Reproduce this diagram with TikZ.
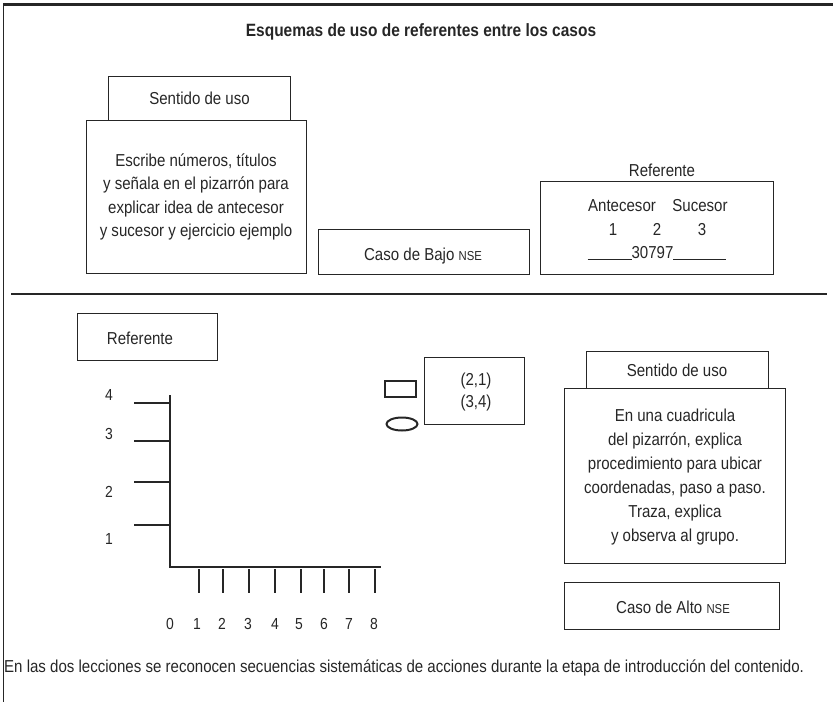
\documentclass[tikz,border=0pt]{standalone}
\usepackage{fontspec}
\usetikzlibrary{shapes.geometric}
\setmainfont[FakeStretch=0.87]{Liberation Sans}
\definecolor{ink}{RGB}{38,38,38}
\begin{document}
\begin{tikzpicture}[x=1pt,y=-1pt,
  every node/.style={text=ink, inner sep=0pt},
  txt/.style={font=\fontsize{17.3}{23.5}\selectfont, align=center},
  small/.style={font=\fontsize{16}{16}\selectfont, anchor=base},
  box/.style={draw=ink, line width=1.1pt, inner sep=0pt, anchor=north west},
  thin/.style={draw=ink, line width=1.1pt},
  heavy/.style={draw=ink, line width=2.2pt}
]
\useasboundingbox (0,0) rectangle (833,702);
\newcommand{\nse}{{\fontsize{13}{12}\selectfont NSE}}
% frame lines
\coordinate (tl) at (3,4.5);
\coordinate (tr) at (833,4.5);
\coordinate (bl) at (3,702);
\draw[heavy] (tl) -- (tr);
\draw[draw=ink, line width=1pt] (3,4) -- (bl);
\coordinate (dl) at (11,294);
\coordinate (dr) at (827,294);
\draw[heavy] (dl) -- (dr);

% title
\node[font=\fontsize{17.8}{19}\selectfont\bfseries] (title) at (421,32) {Esquemas de uso de referentes entre los casos};

% ---------- top part ----------
\node[box, minimum width=182pt, minimum height=44pt] (sen1) at (108,76) {};
\node[txt] (sen1t) at (sen1.center) {Sentido de uso};
\node[box, minimum width=220pt, minimum height=153pt] (esc) at (86,120) {};
\node[txt] (esct) at (196,197) {Escribe números, títulos\\y señala en el pizarrón para\\explicar idea de antecesor\\y sucesor y ejercicio ejemplo};

\node[box, minimum width=211pt, minimum height=45pt] (bajo) at (318,229) {};
\node[txt] (bajot) at (423,256) {Caso de Bajo \nse};

\node[txt] (ref1l) at (662,170) {Referente};
\node[box, minimum width=233pt, minimum height=93pt] (ref1) at (540,181) {};
\node[txt, anchor=base] (ante) at (622,211) {Antecesor};
\node[txt, anchor=base] (suce) at (700,211) {Sucesor};
\node[txt, anchor=base] (n1) at (613,235) {1};
\node[txt, anchor=base] (n2) at (657,235) {2};
\node[txt, anchor=base] (n3) at (702,235) {3};
\node[txt, anchor=base] (num) at (657,258) {\underline{\hspace{44pt}}30797\underline{\hspace{53pt}}};

% ---------- bottom part ----------
\node[box, minimum width=140pt, minimum height=47pt] (ref2) at (77,313) {};
\node[txt] (ref2t) at (140,338) {Referente};

\coordinate (O) at (170,567);
\coordinate (ytop) at (170,395);
\coordinate (xend) at (381,567);
\draw[thin] (ytop) -- (O) -- (xend);
\foreach \y in {403,441,482,525} \draw[thin] (134,\y) -- (170,\y);
\foreach \x in {199,223,249,275,301,324,349,375} \draw[thin] (\x,569) -- (\x,593);
\foreach \lab/\y in {4/400,3/439,2/497,1/544} \node[small] (y\lab) at (109,\y) {\lab};
\foreach \lab/\x in {0/170,1/197,2/222,3/248,4/275,5/299,6/324,7/349,8/374} \node[small] (x\lab) at (\x,629) {\lab};

\node[draw=ink, line width=2.4pt, minimum width=31pt, minimum height=16pt, anchor=north west] (sq) at (384,380) {};
\node[draw=ink, line width=2pt, ellipse, minimum width=31pt, minimum height=13pt] (el) at (402,424) {};
\node[box, minimum width=100pt, minimum height=67pt] (coord) at (424,357) {};
\node[txt] (coordt) at (476,392) {(2,1)\\[-1.5pt](3,4)};

\node[box, minimum width=182pt, minimum height=37pt] (sen2) at (586,351) {};
\node[txt] (sen2t) at (677,370) {Sentido de uso};
\node[box, minimum width=221pt, minimum height=175pt] (cua) at (564,388) {};
\node[txt, font=\fontsize{17.3}{24}\selectfont] (cuat) at (675,477) {En una cuadricula\\del pizarrón, explica\\procedimiento para ubicar\\coordenadas, paso a paso.\\Traza, explica\\y observa al grupo.};
\node[box, minimum width=215pt, minimum height=47pt] (alto) at (564,582) {};
\node[txt] (altot) at (673,607) {Caso de Alto \nse};

\node[txt, anchor=west] (concl) at (4,668) {En las dos lecciones se reconocen secuencias sistemáticas de acciones durante la etapa de introducción del contenido.};
\end{tikzpicture}
\end{document}
